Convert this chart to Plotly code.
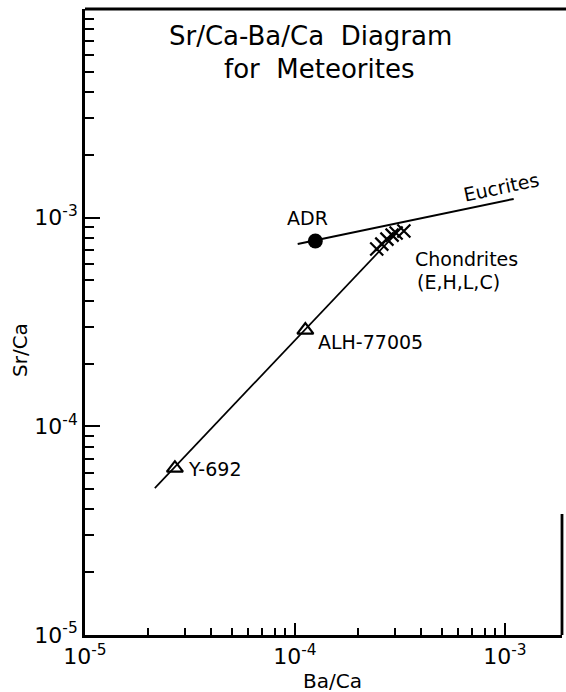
import plotly.graph_objects as go

# ---- data ----
chondrite_line_x = [2.15e-5, 3.05e-4]
chondrite_line_y = [5.06e-5, 8.45e-4]

eucrite_line_x = [1.03e-4, 1.10e-3]
eucrite_line_y = [7.47e-4, 1.23e-3]

adr_x = [1.25e-4]
adr_y = [7.73e-4]

achondrite_names = ["ALH-77005", "Y-692"]
achondrite_x = [1.12e-4, 2.68e-5]
achondrite_y = [2.89e-4, 6.3e-5]

chondrite_x = [2.45e-4, 2.59e-4, 2.74e-4, 2.90e-4, 3.03e-4, 3.30e-4]
chondrite_y = [7.08e-4, 7.47e-4, 7.89e-4, 8.25e-4, 8.44e-4, 8.63e-4]

major_ticks = [1e-5, 1e-4, 1e-3]
major_text = ["10<sup>-5</sup>", "10<sup>-4</sup>", "10<sup>-3</sup>"]
x_minor = [m * d for d in (1e-5, 1e-4) for m in range(2, 10)]
y_minor = [m * d for d in (1e-5, 1e-4, 1e-3) for m in range(2, 10)]

FONT = "DejaVu Sans"
W, H = 566, 692
L, R, T, B = 85, 562, 9, 635


def px(x):
    return (x - L) / (R - L)


def py(y):
    return (B - y) / (B - T)


fig = go.Figure()
fig.add_trace(go.Scatter(x=chondrite_line_x, y=chondrite_line_y, mode="lines",
                         line=dict(color="black", width=1.7), showlegend=False))
fig.add_trace(go.Scatter(x=eucrite_line_x, y=eucrite_line_y, mode="lines",
                         line=dict(color="black", width=2), showlegend=False))
fig.add_trace(go.Scatter(x=adr_x, y=adr_y, mode="markers",
                         marker=dict(symbol="circle", size=15, color="black"),
                         showlegend=False))
fig.add_trace(go.Scatter(x=achondrite_x, y=achondrite_y, mode="markers",
                         marker=dict(symbol="triangle-up-open", size=14, color="black",
                                     line=dict(width=2.2, color="black")),
                         showlegend=False))
fig.add_trace(go.Scatter(x=chondrite_x, y=chondrite_y, mode="markers",
                         marker=dict(symbol="x-thin-open", size=13, color="black",
                                     line=dict(width=2.2, color="black")),
                         showlegend=False))

tf = dict(family=FONT, size=19, color="black")
big = dict(family=FONT, size=26, color="black")
ann = [
    dict(x=px(310), y=py(36), text="Sr/Ca-Ba/Ca  Diagram", font=big),
    dict(x=px(319), y=py(69), text="for  Meteorites", font=big),
    dict(x=px(307), y=py(218), text="ADR", font=tf),
    dict(x=px(501), y=py(187), text="Eucrites", font=tf, textangle=-12),
    dict(x=px(413), y=py(259), text="Chondrites", font=tf, xanchor="left"),
    dict(x=px(415), y=py(282), text="(E,H,L,C)", font=tf, xanchor="left"),
    dict(x=px(316), y=py(342), text="ALH-77005", font=tf, xanchor="left"),
    dict(x=px(186), y=py(469), text="Y-692", font=tf, xanchor="left"),
    dict(x=px(332), y=py(681), text="Ba/Ca", font=dict(family=FONT, size=20, color="black")),
    dict(x=px(20), y=py(350), text="Sr/Ca", font=dict(family=FONT, size=20, color="black"),
         textangle=-90),
]
for a in ann:
    a.setdefault("xanchor", "center")
    a.update(xref="paper", yref="paper", showarrow=False, yanchor="middle")

axis_common = dict(
    type="log", showgrid=False, zeroline=False,
    showline=True, linecolor="black", linewidth=2.8,
    ticks="inside", tickwidth=1.7, tickcolor="black",
    tickvals=major_ticks, ticktext=major_text,
    tickfont=dict(family=FONT, size=22, color="black"),
)

fig.update_layout(
    width=W, height=H,
    margin=dict(l=L, r=W - R, t=T, b=H - B),
    paper_bgcolor="white", plot_bgcolor="white",
    annotations=ann,
    xaxis=dict(axis_common, range=[-5, -5 + (R - L) / 210.0], ticklen=12,
               minor=dict(tickvals=x_minor, ticks="inside", ticklen=7, tickwidth=1.5, tickcolor="black")),
    yaxis=dict(axis_common, range=[-5, -2], ticklen=15,
               minor=dict(tickvals=y_minor, ticks="inside", ticklen=9, tickwidth=1.5, tickcolor="black")),
    shapes=[
        dict(type="line", xref="paper", yref="paper", x0=0, x1=px(566), y0=1, y1=1,
             line=dict(color="black", width=2.8)),
        dict(type="line", xref="paper", yref="paper", x0=1, x1=1, y0=0, y1=py(514),
             line=dict(color="black", width=2.8)),
    ],
)

fig.write_html("out.html")
